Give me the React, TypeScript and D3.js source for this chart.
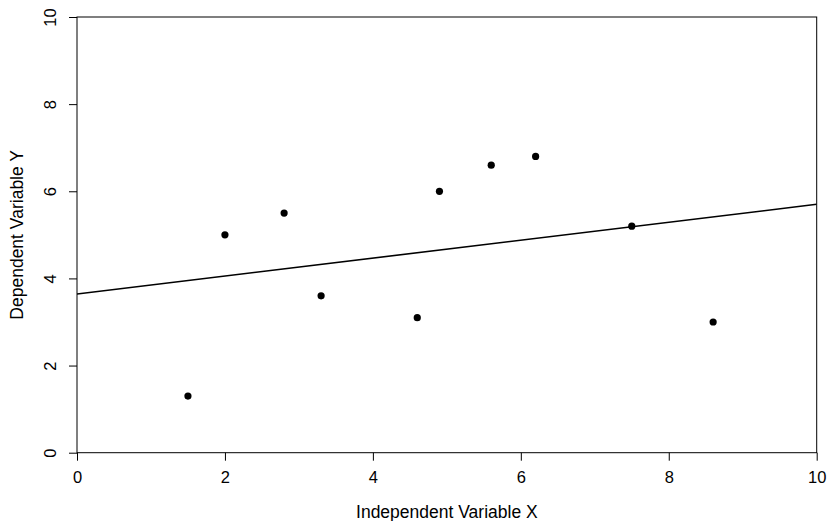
import React, { useRef, useEffect } from 'react';
import * as d3 from 'd3';

// observed points
const xValues = [1.5, 2.0, 2.8, 3.3, 4.6, 4.9, 5.6, 6.2, 7.5, 8.6];
const yValues = [1.3, 5.0, 5.5, 3.6, 3.1, 6.0, 6.6, 6.8, 5.2, 3.0];

const xTicks = [0, 2, 4, 6, 8, 10];
const yTicks = [0, 2, 4, 6, 8, 10];

const xLabel = 'Independent Variable X';
const yLabel = 'Dependent Variable Y';

const WIDTH = 830;
const HEIGHT = 521;
const margin = { top: 17, right: 13.3, bottom: 68.3, left: 77 };
const FONT = '"Liberation Sans", Arial, Helvetica, sans-serif';
const TICK_FS = 16.5;
const TITLE_FS = 17.5;

const App = () => {
  const svgRef = useRef<SVGSVGElement | null>(null);

  useEffect(() => {
    document.body.style.margin = '0';
    const svg = d3.select(svgRef.current);
    svg.selectAll('*').remove();
    svg.attr('width', WIDTH).attr('height', HEIGHT).style('display', 'block').style('background', '#fff');

    const x = d3.scaleLinear().domain([0, 10]).range([margin.left, WIDTH - margin.right]);
    const y = d3.scaleLinear().domain([0, 10]).range([HEIGHT - margin.bottom, margin.top]);

    // least squares fit (abline of lm)
    const mx = d3.mean(xValues) as number;
    const my = d3.mean(yValues) as number;
    const sxy = d3.sum(xValues, (v, i) => (v - mx) * (yValues[i] - my));
    const sxx = d3.sum(xValues, v => (v - mx) ** 2);
    const slope = sxy / sxx;
    const intercept = my - slope * mx;

    svg.append('clipPath').attr('id', 'plot-clip')
      .append('rect')
      .attr('x', x(0)).attr('y', y(10))
      .attr('width', x(10) - x(0)).attr('height', y(0) - y(10));

    // points
    svg.append('g')
      .selectAll('circle')
      .data(xValues.map((v, i) => [v, yValues[i]]))
      .join('circle')
      .attr('cx', d => x(d[0]))
      .attr('cy', d => y(d[1]))
      .attr('r', 3.6)
      .attr('fill', '#000');

    // fitted line
    svg.append('line')
      .attr('clip-path', 'url(#plot-clip)')
      .attr('x1', x(0)).attr('y1', y(intercept))
      .attr('x2', x(10)).attr('y2', y(intercept + slope * 10))
      .attr('stroke', '#000')
      .attr('stroke-width', 1.6);

    // box
    svg.append('rect')
      .attr('x', x(0)).attr('y', y(10))
      .attr('width', x(10) - x(0)).attr('height', y(0) - y(10))
      .attr('fill', 'none')
      .attr('stroke', '#000')
      .attr('stroke-width', 1);

    const xAxis = svg.append('g')
      .attr('transform', `translate(0,${y(0)})`)
      .call(d3.axisBottom(x).tickValues(xTicks).tickSize(8).tickPadding(11).tickFormat(d3.format('d')));
    xAxis.select('.domain').remove();
    xAxis.selectAll('text').attr('font-family', FONT).attr('font-size', TICK_FS).attr('fill', '#000');

    const yAxis = svg.append('g')
      .attr('transform', `translate(${x(0)},0)`)
      .call(d3.axisLeft(y).tickValues(yTicks).tickSize(8).tickPadding(0).tickFormat(d3.format('d')));
    yAxis.select('.domain').remove();
    yAxis.selectAll('.tick text')
      .attr('font-family', FONT)
      .attr('font-size', TICK_FS)
      .attr('fill', '#000')
      .attr('x', null)
      .attr('y', 0)
      .attr('dy', '0.35em')
      .attr('text-anchor', 'middle')
      .attr('transform', 'translate(-27,0) rotate(-90)');

    svg.append('text')
      .attr('x', (x(0) + x(10)) / 2)
      .attr('y', 518)
      .attr('text-anchor', 'middle')
      .attr('font-family', FONT)
      .attr('font-size', TITLE_FS)
      .text(xLabel);

    svg.append('text')
      .attr('transform', `translate(23,${(y(0) + y(10)) / 2}) rotate(-90)`)
      .attr('text-anchor', 'middle')
      .attr('font-family', FONT)
      .attr('font-size', TITLE_FS)
      .text(yLabel);
  }, []);

  return <svg ref={svgRef}></svg>;
};

export default App;
